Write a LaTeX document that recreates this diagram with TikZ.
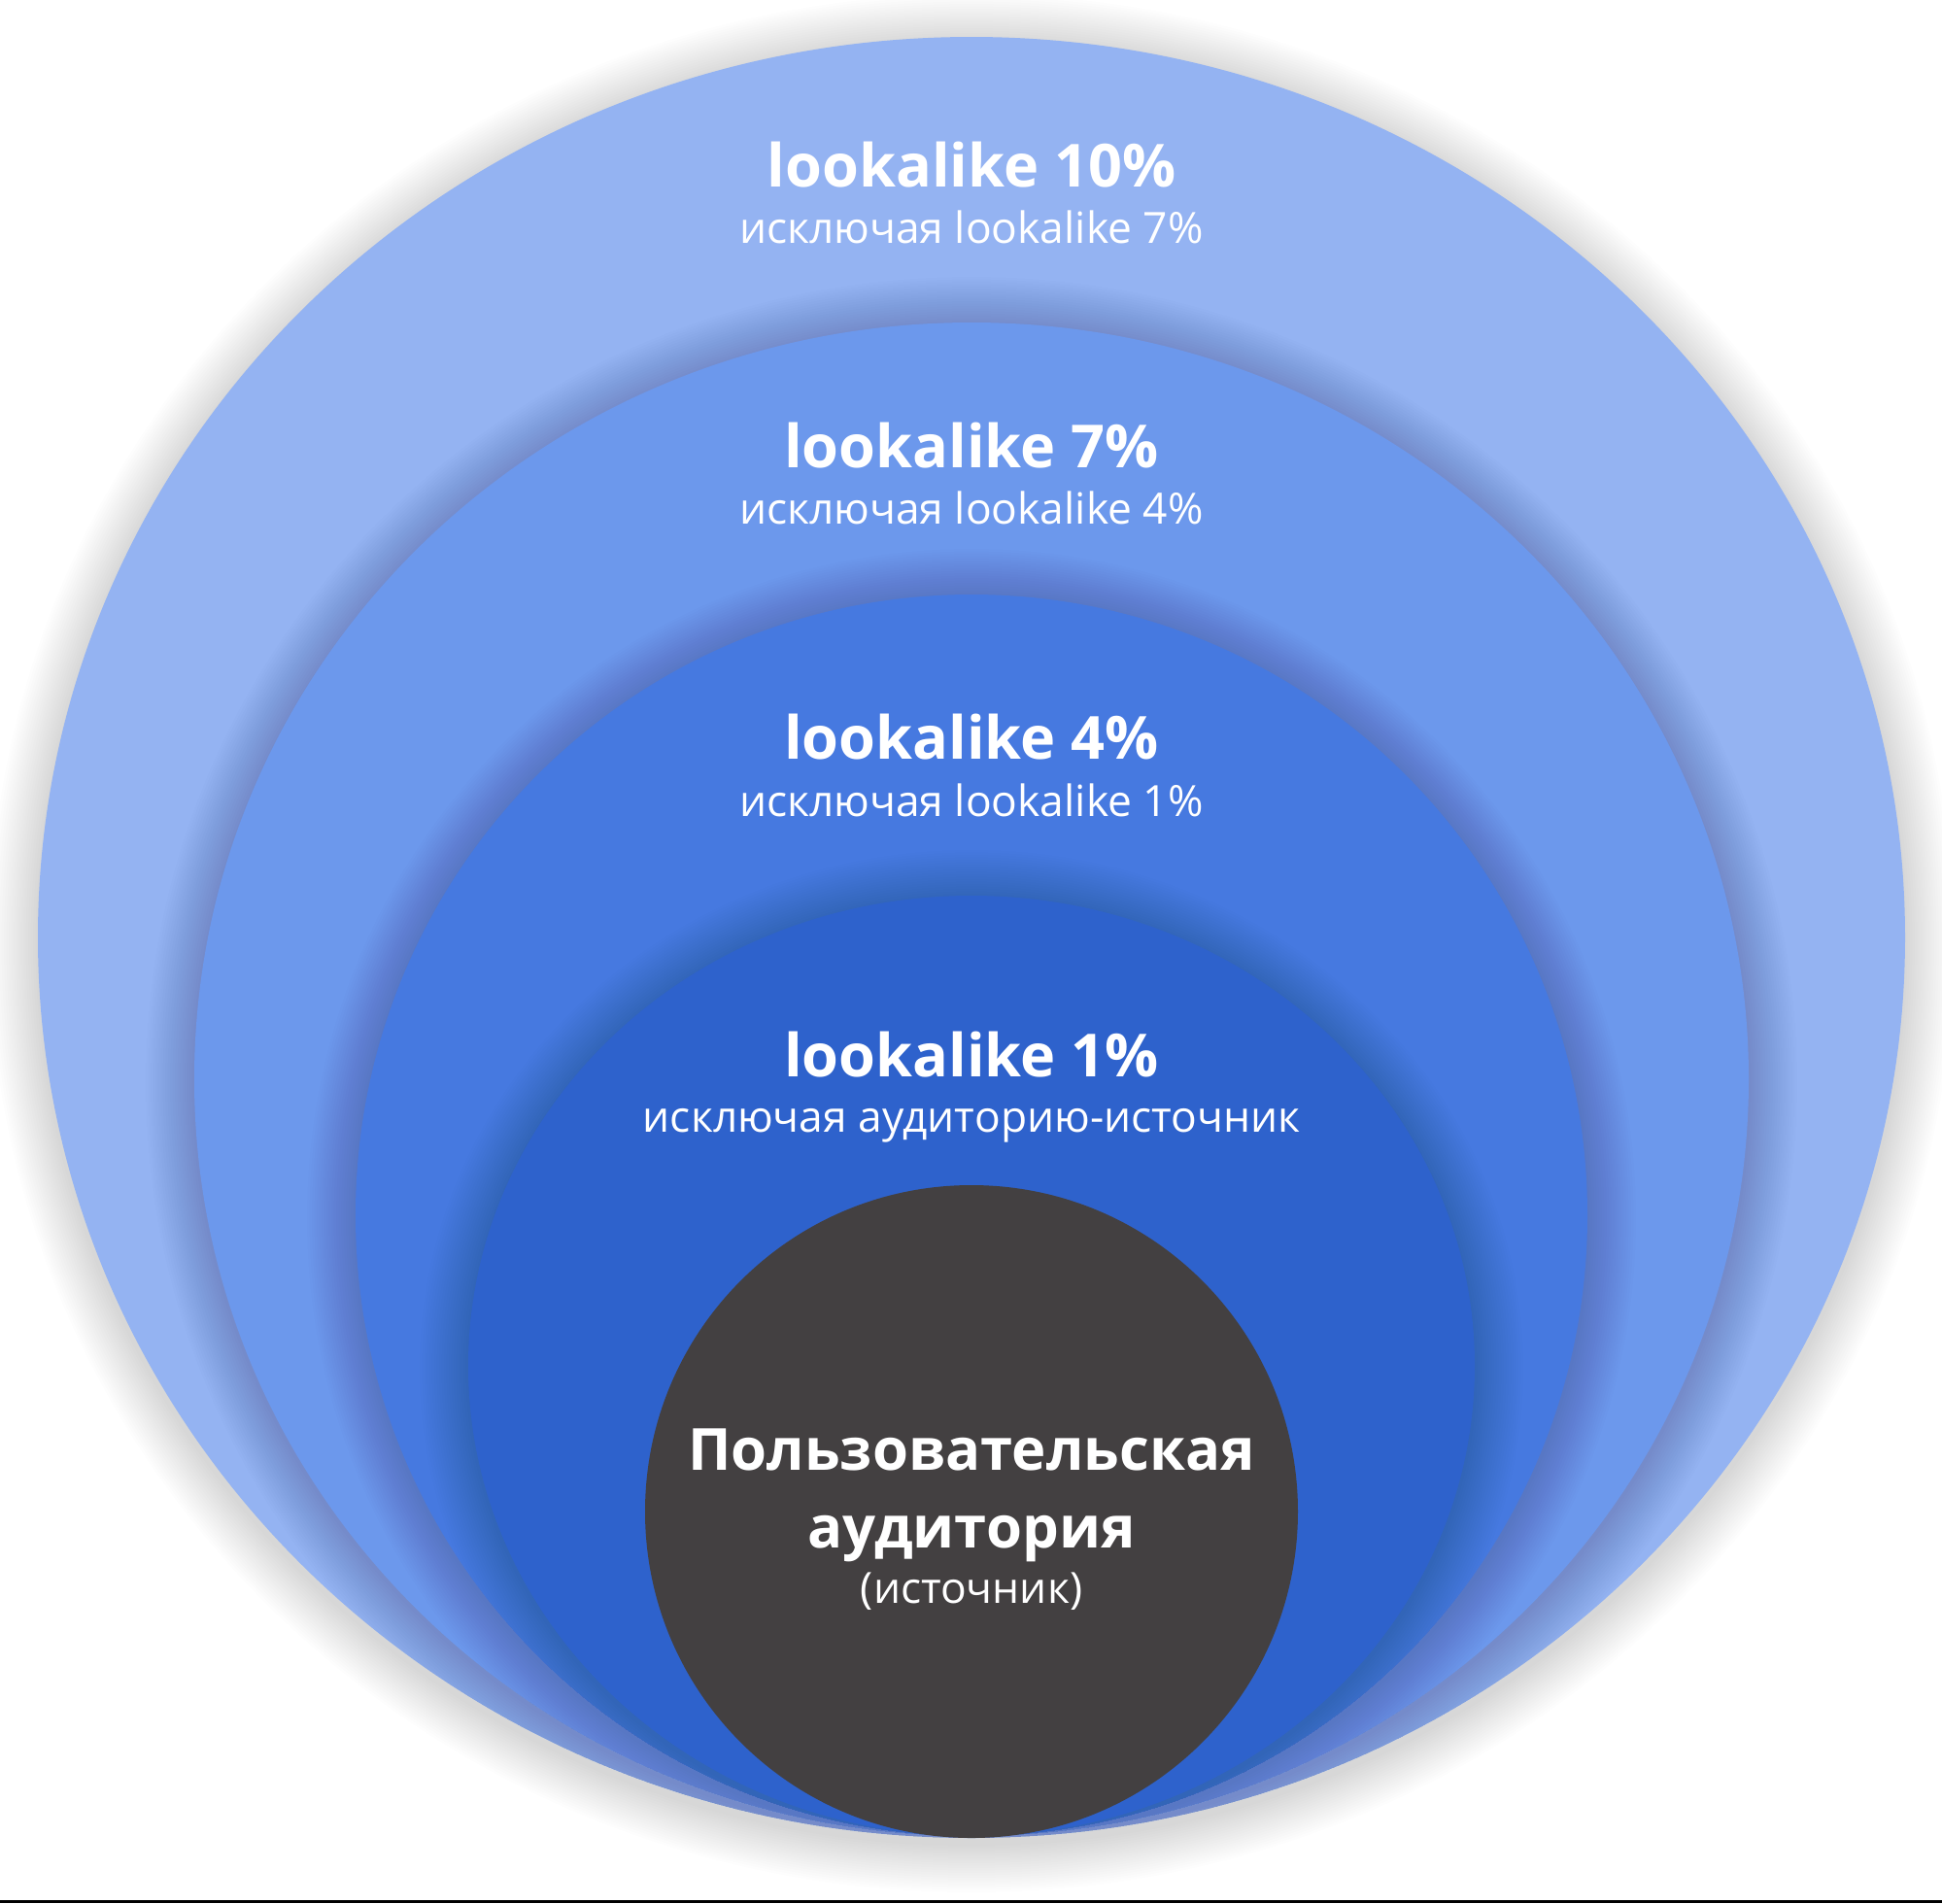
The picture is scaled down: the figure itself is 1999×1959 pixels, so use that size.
\documentclass[tikz,border=0pt]{standalone}
\usepackage{fontspec}
\setmainfont{Open Sans}
\definecolor{ring10}{HTML}{94B3F2}
\definecolor{ring7}{HTML}{6C98EC}
\definecolor{ring4}{HTML}{4679E0}
\definecolor{ring1}{HTML}{2E62CC}
\definecolor{srcgray}{HTML}{434041}
\newcommand\softshade[5]{%
  \foreach \k in {1,...,20}{%
    \fill[black,opacity=#5] (#1,#2+3) ellipse [x radius=#3+2.5*\k, y radius=#4+2.5*\k];}}
\tikzset{
  bigtitle/.style={text=white,font=\bfseries\fontsize{17.4}{20}\selectfont,anchor=base,inner sep=0pt},
  subtitle/.style={text=white,font=\fontsize{12.6}{14}\selectfont,anchor=base,inner sep=0pt},
  srctitle/.style={text=white,font=\bfseries\fontsize{17}{20}\selectfont,anchor=base,inner sep=0pt},
}
\begin{document}
\begin{tikzpicture}[x=0.01cm,y=-0.01cm]
\fill[white] (0,0) rectangle (1999,1959);
\useasboundingbox (0,0) rectangle (1999,1959);
% outer ring: lookalike 10%
\softshade{1000}{968}{961}{927}{0.0065}
\fill[ring10] (1000,965) ellipse [x radius=961, y radius=927];
% lookalike 7%
\begin{scope}
\clip (1000,965) ellipse [x radius=961, y radius=927];
\softshade{1000}{1111}{800}{779}{0.0075}
\end{scope}
\fill[ring7] (1000,1111) ellipse [x radius=800, y radius=779];
% lookalike 4%
\begin{scope}
\clip (1000,1111) ellipse [x radius=800, y radius=779];
\softshade{1000}{1251}{634}{639}{0.0075}
\end{scope}
\fill[ring4] (1000,1251) ellipse [x radius=634, y radius=639];
% lookalike 1%
\begin{scope}
\clip (1000,1251) ellipse [x radius=634, y radius=639];
\softshade{1000}{1406}{518}{484}{0.0075}
\end{scope}
\fill[ring1] (1000,1406) ellipse [x radius=518, y radius=484];
% source
\fill[srcgray] (1000,1556) circle [radius=336];
% texts
\node[bigtitle] (t10) at (1000,192) {lookalike 10\%};
\node[subtitle] (s10) at (1000,250) {исключая lookalike 7\%};
\node[bigtitle] (t7) at (1000,481) {lookalike 7\%};
\node[subtitle] (s7) at (1000,539) {исключая lookalike 4\%};
\node[bigtitle] (t4) at (1000,781) {lookalike 4\%};
\node[subtitle] (s4) at (1000,840) {исключая lookalike 1\%};
\node[bigtitle] (t1) at (1000,1108) {lookalike 1\%};
\node[subtitle] (s1) at (1000,1165) {исключая аудиторию-источник};
\node[srctitle] (src1) at (1000,1513) {Пользовательская};
\node[srctitle] (src2) at (1000,1593) {аудитория};
\node[subtitle] (src3) at (1000,1650) {(источник)};
% bottom rule
\fill[black] (0,1956) rectangle (1999,1959);
\end{tikzpicture}
\end{document}
